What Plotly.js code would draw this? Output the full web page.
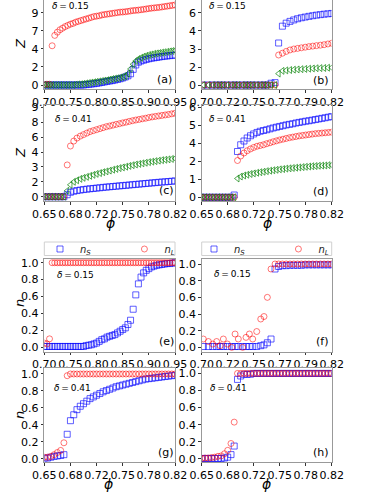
<!DOCTYPE html>
<html>
<head>
<meta charset="utf-8">
<script src="https://cdn.plot.ly/plotly-3.0.1.min.js"></script>
<style>html,body{margin:0;padding:0;background:#fff}#plot{width:383px;height:495px}</style>
</head>
<body>
<div id="plot"></div>
<script>
// packing fraction grids (a,e) / (b,f) / (c,d,g,h)
var phiA = [0.700,0.705,0.710,0.715,0.720,0.725,0.730,0.735,0.740,0.745,0.750,0.755,0.760,0.765,0.770,0.775,0.780,0.785,0.790,0.795,0.800,0.805,0.810,0.815,0.820,0.825,0.830,0.835,0.840,0.845,0.850,0.855,0.860,0.865,0.870,0.875,0.880,0.885,0.890,0.895,0.900,0.905,0.910,0.915,0.920,0.925,0.930,0.935,0.940,0.945,0.950];
var phiB = [0.7015,0.7062,0.7102,0.7138,0.7170,0.7200,0.7237,0.7277,0.7308,0.7338,0.7378,0.7409,0.7440,0.7471,0.7508,0.7545,0.7575,0.7606,0.7640,0.7677,0.7710,0.7745,0.7780,0.7815,0.7850,0.7885,0.7920,0.7955,0.7990,0.8025,0.8060,0.8095,0.8130,0.8165,0.8200];
var phiC = [0.6500,0.6543,0.6585,0.6628,0.6670,0.6713,0.6755,0.6798,0.6840,0.6883,0.6925,0.6968,0.7010,0.7053,0.7095,0.7138,0.7180,0.7223,0.7265,0.7308,0.7350,0.7393,0.7435,0.7478,0.7520,0.7563,0.7605,0.7648,0.7690,0.7733,0.7775,0.7818,0.7860,0.7903,0.7945,0.7988,0.8030,0.8073,0.8115,0.8158,0.8200];

// (a) delta = 0.15
var zS_a = [0,0,0,0,0,0,0,0,0,0,0,0,0,0,0,0,0.05,0.08,0.12,0.16,0.2,0.26,0.32,0.38,0.45,0.5,0.55,0.62,0.7,0.78,0.88,1.0,1.15,1.4,1.95,2.5,2.85,3.0,3.1,3.2,3.28,3.35,3.4,3.45,3.5,3.55,3.6,3.63,3.67,3.7,3.75];
var zL_a = [0.05,0.1,0.1,4.9,6.2,6.6,6.9,7.1,7.3,7.45,7.6,7.7,7.85,7.95,8.05,8.15,8.25,8.35,8.45,8.55,8.6,8.65,8.75,8.8,8.85,8.9,8.95,9.0,9.05,9.1,9.12,9.15,9.2,9.25,9.3,9.33,9.36,9.4,9.45,9.5,9.55,9.6,9.63,9.67,9.7,9.75,9.8,9.85,9.9,9.95,10.0];
var zG_a = [0,0,0,0,0,0,0,0,0,0,0,0,0.05,0.08,0.1,0.15,0.2,0.25,0.3,0.35,0.4,0.45,0.5,0.55,0.6,0.68,0.75,0.8,0.85,0.92,1.0,1.1,1.4,2.0,2.6,3.0,3.25,3.4,3.55,3.65,3.75,3.82,3.9,3.95,4.0,4.05,4.1,4.15,4.2,4.25,4.3];
// (b) delta = 0.15
var zS_b = [0,0,0,0,0,0,0,0,0,0,0,0,0,0,0,0,0,0,0.15,0.2,3.5,4.9,5.15,5.3,5.42,5.52,5.6,5.66,5.72,5.77,5.82,5.86,5.9,5.93,5.96];
var zL_b = [0,0,0,0,0,0,0,0,0,0,0,0,0,0,0,0,0,0,0,0,2.5,2.65,2.8,2.92,3.0,3.05,3.1,3.15,3.2,3.24,3.28,3.32,3.36,3.42,3.48];
var zG_b = [0,0,0,0,0,0,0,0,0,0,0,0,0,0,0,0,0,0,0,0,0.95,1.18,1.22,1.25,1.28,1.3,1.32,1.34,1.36,1.38,1.4,1.41,1.42,1.44,1.45];
// (c) delta = 0.41
var zS_c = [0,0,0,0,0,0,0,0.2,0.45,0.55,0.62,0.67,0.72,0.76,0.8,0.83,0.87,0.9,0.94,0.97,1.0,1.03,1.06,1.09,1.12,1.15,1.18,1.21,1.24,1.27,1.3,1.33,1.36,1.39,1.42,1.45,1.48,1.5,1.53,1.56,1.59];
var zL_c = [0,0,0,0,0,0,0,3.2,5.1,5.6,5.9,6.1,6.25,6.4,6.55,6.65,6.75,6.85,6.95,7.05,7.12,7.2,7.28,7.35,7.43,7.5,7.58,7.65,7.72,7.78,7.84,7.9,7.97,8.03,8.08,8.13,8.18,8.23,8.28,8.34,8.4];
var zG_c = [0,0,0,0,0,0,0,0.6,1.2,1.5,1.65,1.8,1.9,2.0,2.1,2.2,2.3,2.38,2.47,2.55,2.63,2.72,2.8,2.88,2.95,3.02,3.1,3.17,3.24,3.3,3.36,3.42,3.48,3.53,3.58,3.63,3.68,3.72,3.76,3.8,3.85];
// (d) delta = 0.41
var zS_d = [0,0,0,0,0,0,0,0,0,0,0.15,3.05,3.5,3.75,3.95,4.1,4.22,4.32,4.4,4.45,4.5,4.56,4.62,4.67,4.72,4.77,4.82,4.86,4.9,4.95,4.99,5.03,5.07,5.1,5.14,5.18,5.22,5.26,5.3,5.34,5.38];
var zL_d = [0,0,0,0,0,0,0,0,0,0,0,2.45,2.75,2.95,3.1,3.22,3.32,3.4,3.45,3.5,3.57,3.63,3.7,3.76,3.82,3.87,3.92,3.97,4.01,4.05,4.09,4.12,4.15,4.18,4.21,4.24,4.26,4.28,4.3,4.32,4.34];
var zG_d = [0,0,0,0,0,0,0,0,0,0,0,1.25,1.38,1.45,1.5,1.55,1.59,1.63,1.67,1.7,1.74,1.77,1.8,1.83,1.86,1.88,1.91,1.93,1.95,1.97,1.99,2.01,2.03,2.05,2.07,2.08,2.1,2.11,2.12,2.14,2.15];
// (e)-(h) fractions
var nS_e = [0.01,0.01,0.01,0.01,0.01,0.01,0.01,0.01,0.01,0.01,0.01,0.01,0.01,0.01,0.01,0.01,0.02,0.025,0.03,0.04,0.05,0.07,0.09,0.1,0.12,0.13,0.14,0.15,0.17,0.19,0.21,0.23,0.27,0.32,0.45,0.62,0.75,0.83,0.88,0.91,0.93,0.95,0.96,0.97,0.975,0.98,0.985,0.99,0.99,0.995,1.0];
var nL_e = [0.05,0.04,0.1,1.0,1.0,1.0,1.0,1.0,1.0,1.0,1.0,1.0,1.0,1.0,1.0,1.0,1.0,1.0,1.0,1.0,1.0,1.0,1.0,1.0,1.0,1.0,1.0,1.0,1.0,1.0,1.0,1.0,1.0,1.0,1.0,1.0,1.0,1.0,1.0,1.0,1.0,1.0,1.0,1.0,1.0,1.0,1.0,1.0,1.0,1.0,1.0];
var nS_f = [0.01,0.01,0.01,0.01,0.01,0.01,0.01,0.01,0.01,0.01,0.01,0.01,0.01,0.01,0.01,0.02,0.03,0.055,0.1,0.94,0.97,0.98,0.98,0.985,0.985,0.985,0.985,0.99,0.99,0.99,0.99,0.99,0.99,0.99,0.99];
var nL_f = [0.10,0.07,0.04,0.07,0.02,0.10,0.04,0.0,0.16,0.10,0.0,0.12,0.16,0.10,0.19,0.34,0.37,0.60,0.94,1.0,1.0,1.0,1.0,1.0,1.0,1.0,1.0,1.0,1.0,1.0,1.0,1.0,1.0,1.0,1.0];
var nS_g = [0.01,0.01,0.02,0.03,0.035,0.04,0.05,0.29,0.45,0.52,0.58,0.62,0.65,0.68,0.71,0.73,0.75,0.77,0.79,0.805,0.82,0.835,0.85,0.86,0.87,0.88,0.89,0.9,0.91,0.92,0.93,0.94,0.945,0.95,0.955,0.96,0.965,0.97,0.975,0.98,0.985];
var nL_g = [0.02,0.02,0.03,0.05,0.075,0.1,0.19,0.98,1.0,1.0,1.0,1.0,1.0,1.0,1.0,1.0,1.0,1.0,1.0,1.0,1.0,1.0,1.0,1.0,1.0,1.0,1.0,1.0,1.0,1.0,1.0,1.0,1.0,1.0,1.0,1.0,1.0,1.0,1.0,1.0,1.0];
var nS_h = [0.005,0.005,0.005,0.005,0.005,0.005,0.005,0.01,0.02,0.05,0.15,0.93,0.97,0.99,0.99,0.99,1.0,1.0,1.0,1.0,1.0,1.0,1.0,1.0,1.0,1.0,1.0,1.0,1.0,1.0,1.0,1.0,1.0,1.0,1.0,1.0,1.0,1.0,1.0,1.0,1.0];
var nL_h = [0.005,0.01,0.01,0.015,0.02,0.03,0.035,0.06,0.1,0.18,0.43,1.0,1.0,1.0,1.0,1.0,1.0,1.0,1.0,1.0,1.0,1.0,1.0,1.0,1.0,1.0,1.0,1.0,1.0,1.0,1.0,1.0,1.0,1.0,1.0,1.0,1.0,1.0,1.0,1.0,1.0];

// tick labels
var xtA = ['0.70','0.75','0.80','0.85','0.90','0.95'];
var xtB = ['0.70','0.72','0.75','0.77','0.79','0.82'];
var xtC = ['0.65','0.68','0.72','0.75','0.78','0.82'];
var ytA = ['0','2','4','7','9'];
var ytB = ['0','2','3','4','6'];
var ytC = ['0','2','3','4','6','8','9'];
var ytD = ['0','1','2','4','5','6'];
var ytN = ['0.0','0.2','0.4','0.6','0.8','1.0'];

var blue = 'rgba(0,0,255,0.7)', red = 'rgba(255,0,0,0.6)', green = 'rgba(0,128,0,0.75)';
var labS = '<i>n<sub>S</sub></i>', labL = '<i>n<sub>L</sub></i>';
var sp = '\u00a0';
var padE = sp.repeat(9), padF = sp.repeat(9);

function pts(x, y, n, sym, col, name, leg) {
  return {x: x, y: y, xaxis: 'x' + n, yaxis: 'y' + n, type: 'scatter', mode: 'markers',
    name: name, showlegend: !!leg, legend: leg || 'legend', hoverinfo: 'skip',
    marker: {symbol: sym, size: 6, color: col, line: {width: 0.9, color: col}}};
}

var data = [
  pts(phiA, zS_a, 1, 'square-open', blue), pts(phiA, zL_a, 1, 'circle-open', red), pts(phiA, zG_a, 1, 'triangle-left-open', green),
  pts(phiB, zS_b, 2, 'square-open', blue), pts(phiB, zL_b, 2, 'circle-open', red), pts(phiB, zG_b, 2, 'triangle-left-open', green),
  pts(phiC, zS_c, 3, 'square-open', blue), pts(phiC, zL_c, 3, 'circle-open', red), pts(phiC, zG_c, 3, 'triangle-left-open', green),
  pts(phiC, zS_d, 4, 'square-open', blue), pts(phiC, zL_d, 4, 'circle-open', red), pts(phiC, zG_d, 4, 'triangle-left-open', green),
  pts(phiA, nS_e, 5, 'square-open', blue, labS + padE, 'legend'), pts(phiA, nL_e, 5, 'circle-open', red, labL, 'legend'),
  pts(phiB, nS_f, 6, 'square-open', blue, labS + padF, 'legend2'), pts(phiB, nL_f, 6, 'circle-open', red, labL, 'legend2'),
  pts(phiC, nS_g, 7, 'square-open', blue), pts(phiC, nL_g, 7, 'circle-open', red),
  pts(phiC, nS_h, 8, 'square-open', blue), pts(phiC, nL_h, 8, 'circle-open', red)
];

var W = 383, H = 495;
function px(v) { return v / W; }
function py(v) { return 1 - v / H; }

function ax(dom, rng, vals, text, anchor) {
  return {domain: dom, range: rng, anchor: anchor, tickmode: 'array', tickvals: vals, ticktext: text,
    tickangle: 0, showline: true, mirror: true, linecolor: '#999', linewidth: 1, ticks: 'outside', ticklen: 2.5,
    tickwidth: 1, tickcolor: '#333', showgrid: false, zeroline: false, fixedrange: true,
    tickfont: {family: 'DejaVu Sans', size: 11, color: '#000'}};
}

var colL = [px(44.3), px(175)], colR = [px(201.7), px(331.7)];
var row1 = [py(89), 1], row2 = [py(201), py(105)], row3 = [py(351.7), py(259)], row4 = [py(462.3), py(368.3)];
var tA = [0.70,0.75,0.80,0.85,0.90,0.95], tB = [0.70,0.724,0.748,0.772,0.796,0.82], tC = [0.65,0.684,0.718,0.752,0.786,0.82];
var tN = [0,0.2,0.4,0.6,0.8,1.0];

function leg(x) {
  return {orientation: 'h', x: px(x), xanchor: 'left', y: py(249), yanchor: 'middle',
    font: {family: 'DejaVu Sans', size: 10, color: '#222'}, bgcolor: 'rgba(0,0,0,0)', borderwidth: 0,
    itemwidth: 30};
}

var layout = {
  width: W, height: H, margin: {l: 0, r: 0, t: 0, b: 0}, paper_bgcolor: '#fff', plot_bgcolor: '#fff',
  font: {family: 'DejaVu Sans', color: '#000'},
  xaxis: ax(colL, [0.70, 0.95], tA, xtA, 'y'),   yaxis: ax(row1, [-0.5, 10.62], [0,2.25,4.5,6.75,9], ytA, 'x'),
  xaxis2: ax(colR, [0.70, 0.82], tB, xtB, 'y2'), yaxis2: ax(row1, [-0.33, 7.08], [0,1.5,3,4.5,6], ytB, 'x2'),
  xaxis3: ax(colL, [0.65, 0.82], tC, xtC, 'y3'), yaxis3: ax(row2, [-0.43, 9.23], [0,1.5,3,4.5,6,7.5,9], ytC, 'x3'),
  xaxis4: ax(colR, [0.65, 0.82], tC, xtC, 'y4'), yaxis4: ax(row2, [-0.25, 6.15], [0,1.2,2.4,3.6,4.8,6], ytD, 'x4'),
  xaxis5: ax(colL, [0.70, 0.95], tA, xtA, 'y5'), yaxis5: ax(row3, [-0.052, 1.044], tN, ytN, 'x5'),
  xaxis6: ax(colR, [0.70, 0.82], tB, xtB, 'y6'), yaxis6: ax(row3, [-0.052, 1.06], tN, ytN, 'x6'),
  xaxis7: ax(colL, [0.65, 0.82], tC, xtC, 'y7'), yaxis7: ax(row4, [-0.04, 1.067], tN, ytN, 'x7'),
  xaxis8: ax(colR, [0.65, 0.82], tC, xtC, 'y8'), yaxis8: ax(row4, [-0.04, 1.06], tN, ytN, 'x8'),
  legend: leg(40),
  legend2: leg(194),
  // legend frames
  shapes: [
    {type: 'rect', xref: 'paper', yref: 'paper', x0: px(44.3), x1: px(175), y0: py(255.5), y1: py(242),
      line: {color: '#d0d0d0', width: 1}, fillcolor: '#fff', layer: 'above'},
    {type: 'rect', xref: 'paper', yref: 'paper', x0: px(201.7), x1: px(331.7), y0: py(255.5), y1: py(242),
      line: {color: '#d0d0d0', width: 1}, fillcolor: '#fff', layer: 'above'}
  ],
  annotations: []
};

function note(x, y, text, opts) {
  var a = {xref: 'paper', yref: 'paper', x: px(x), y: py(y), text: text, showarrow: false,
    xanchor: 'center', yanchor: 'middle', font: {family: 'DejaVu Sans', size: 11, color: '#000'}};
  for (var k in opts) a[k] = opts[k];
  layout.annotations.push(a);
}
var d15 = '<i>δ</i>\u2009=\u20090.15', d41 = '<i>δ</i>\u2009=\u20090.41';
var dOpt = {xanchor: 'left', font: {family: 'DejaVu Sans', size: 9, color: '#000'}};
note(50, 6, d15, dOpt); note(207, 6, d15, dOpt);
note(53, 119, d41, dOpt); note(207, 119, d41, dOpt);
note(55, 275, d15, dOpt); note(212, 274, d15, dOpt);
note(52, 388, d41, dOpt); note(208, 388, d41, dOpt);

note(164, 79, '(a)'); note(321, 80, '(b)');
note(166, 190, '(c)'); note(321, 191, '(d)');
note(166, 341, '(e)'); note(322, 341, '(f)');
note(166, 452, '(g)'); note(321, 452, '(h)');

var yOpt = {textangle: -90, font: {family: 'DejaVu Sans', size: 13, color: '#000'}};
note(20, 44, '<i>Z</i>', yOpt); note(20, 153, '<i>Z</i>', yOpt);
note(19, 303, '<i>n</i>', yOpt); note(19, 415, '<i>n</i>', yOpt);
var pOpt = {font: {family: 'DejaVu Sans', size: 14, color: '#000'}};
note(110, 223, '<i>ϕ</i>', pOpt); note(267, 223, '<i>ϕ</i>', pOpt);
note(108, 484, '<i>ϕ</i>', pOpt); note(266, 484, '<i>ϕ</i>', pOpt);

Plotly.newPlot('plot', data, layout, {displayModeBar: false, staticPlot: true});
</script>
</body>
</html>
